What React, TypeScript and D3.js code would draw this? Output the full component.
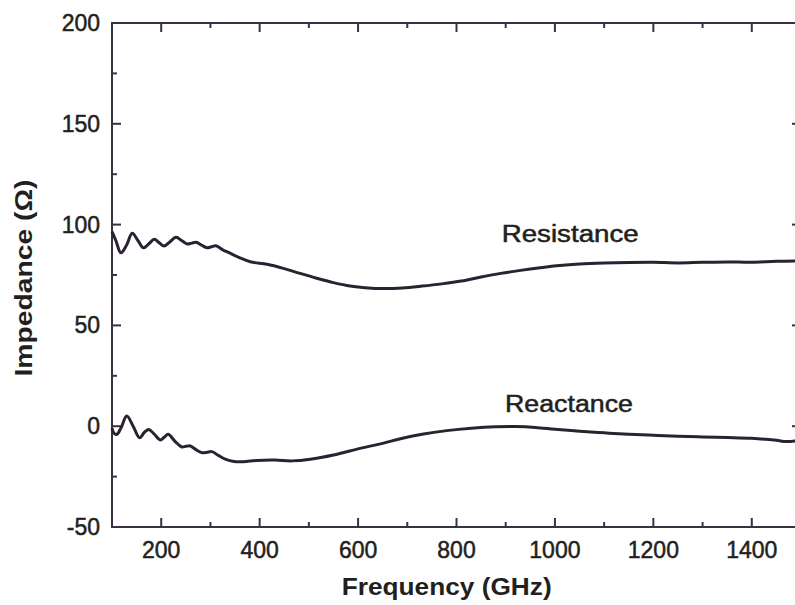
import React from "react";
import * as d3 from "d3";

const resFreq = [100, 108, 118, 130, 141, 153, 164, 175, 186, 196, 206, 218, 230, 242, 253, 262, 271, 282, 293, 302, 311, 325, 340, 360, 381, 415, 448, 482, 516, 550, 584, 620, 650, 690, 730, 770, 810, 850, 890, 930, 970, 1010, 1050, 1100, 1150, 1200, 1250, 1300, 1350, 1400, 1450, 1500];
const resistance = [96.5, 92, 86, 90, 95.7, 92, 88.5, 90.5, 92.7, 91, 89.4, 91.5, 93.7, 92, 90.4, 90.8, 91.2, 89.8, 88.5, 89, 89.5, 87.5, 85.8, 83.5, 81.6, 80.3, 78.3, 75.8, 73.4, 71.2, 69.5, 68.6, 68.3, 68.6, 69.5, 70.6, 72, 74, 75.8, 77.3, 78.6, 79.7, 80.4, 80.9, 81.2, 81.3, 81, 81.3, 81.5, 81.3, 81.8, 82];

const reaFreq = [100, 104, 110, 118, 130, 143, 156, 166, 175, 186, 198, 206, 214, 228, 241, 250, 259, 270, 282, 292, 303, 316, 330, 348, 367, 394, 430, 465, 503, 550, 604, 650, 686, 730, 780, 830, 880, 920, 960, 1000, 1050, 1100, 1150, 1200, 1250, 1300, 1350, 1400, 1450, 1470, 1500];
const reactance = [-1, -3.5, -4, -1, 5, 0, -5.7, -3, -1.6, -4, -6.8, -5.5, -4, -7.5, -10.2, -10, -9.8, -11.5, -13.1, -13, -12.6, -14.5, -16.3, -17.5, -17.6, -17, -16.8, -17.2, -16.4, -14.3, -11, -8.5, -6.2, -4, -2.2, -1, -0.3, -0.2, -0.6, -1.5, -2.5, -3.3, -4, -4.5, -5, -5.3, -5.6, -6, -7, -7.6, -7];

const xMajor = [200, 400, 600, 800, 1000, 1200, 1400];
const xMinor = [300, 500, 700, 900, 1100, 1300];
const yMajor = [-50, 0, 50, 100, 150, 200];
const yMinor = [-25, 25, 75, 125, 175];

const xTitle = "Frequency (GHz)";
const yTitle = "Impedance (Ω)";
const resLabel = "Resistance";
const reaLabel = "Reactance";

export default function App() {
  const x = d3.scaleLinear().domain([100, 1500]).range([112, 801]);
  const y = d3.scaleLinear().domain([-50, 200]).range([527, 23]);
  const mk = d3
    .line<[number, number]>()
    .x((d) => x(d[0]))
    .y((d) => y(d[1]))
    .curve(d3.curveCatmullRom.alpha(0.5));
  const resPath = mk(resFreq.map((f, i) => [f, resistance[i]] as [number, number]));
  const reaPath = mk(reaFreq.map((f, i) => [f, reactance[i]] as [number, number]));

  const axisColor = "#3a3042";
  const textColor = "#231f20";
  const font = "'Liberation Sans', Arial, sans-serif";
  const [x0, x1] = x.range();
  const [yb, yt] = y.range();
  const maj = 9;
  const min = 5;
  const tStroke = { stroke: textColor, strokeWidth: 0.5 };

  return (
    <svg
      width={795}
      height={605}
      style={{ position: "absolute", left: 0, top: 0, background: "#fff" }}
      fontFamily={font}
    >
      <rect x={0} y={0} width={795} height={605} fill="#fff" />
      <rect x={x0} y={yt} width={x1 - x0} height={yb - yt} fill="none" stroke={axisColor} strokeWidth={2} />
      {xMajor.map((t) => (
        <g key={"xm" + t}>
          <line x1={x(t)} x2={x(t)} y1={yb} y2={yb - maj} stroke={axisColor} strokeWidth={2} />
          <line x1={x(t)} x2={x(t)} y1={yt} y2={yt + maj} stroke={axisColor} strokeWidth={2} />
          <text x={x(t)} y={558} textAnchor="middle" fontSize={23} fill={textColor} {...tStroke}>
            {t}
          </text>
        </g>
      ))}
      {xMinor.map((t) => (
        <g key={"xn" + t}>
          <line x1={x(t)} x2={x(t)} y1={yb} y2={yb - min} stroke={axisColor} strokeWidth={2} />
          <line x1={x(t)} x2={x(t)} y1={yt} y2={yt + min} stroke={axisColor} strokeWidth={2} />
        </g>
      ))}
      {yMajor.map((t) => (
        <g key={"ym" + t}>
          <line x1={x0} x2={x0 + maj} y1={y(t)} y2={y(t)} stroke={axisColor} strokeWidth={2} />
          <line x1={x1} x2={x1 - maj} y1={y(t)} y2={y(t)} stroke={axisColor} strokeWidth={2} />
          <text x={100} y={y(t) + 8} textAnchor="end" fontSize={23} fill={textColor} {...tStroke}>
            {t}
          </text>
        </g>
      ))}
      {yMinor.map((t) => (
        <g key={"yn" + t}>
          <line x1={x0} x2={x0 + min} y1={y(t)} y2={y(t)} stroke={axisColor} strokeWidth={2} />
          <line x1={x1} x2={x1 - min} y1={y(t)} y2={y(t)} stroke={axisColor} strokeWidth={2} />
        </g>
      ))}
      <path d={resPath || ""} fill="none" stroke="#2a2230" strokeWidth={3} strokeLinejoin="round" />
      <path d={reaPath || ""} fill="none" stroke="#2a2230" strokeWidth={3} strokeLinejoin="round" />
      <text x={501.7} y={241.7} fontSize={23} fill={textColor} textLength={137} lengthAdjust="spacingAndGlyphs" {...tStroke}>
        {resLabel}
      </text>
      <text x={505} y={411.7} fontSize={23} fill={textColor} textLength={128} lengthAdjust="spacingAndGlyphs" {...tStroke}>
        {reaLabel}
      </text>
      <text x={446.7} y={595} textAnchor="middle" fontSize={23} fontWeight="bold" fill={textColor} textLength={210} lengthAdjust="spacingAndGlyphs">
        {xTitle}
      </text>
      <text transform="translate(32,278) rotate(-90)" textAnchor="middle" fontSize={23} fontWeight="bold" fill={textColor} textLength={197} lengthAdjust="spacingAndGlyphs">
        {yTitle}
      </text>
    </svg>
  );
}
